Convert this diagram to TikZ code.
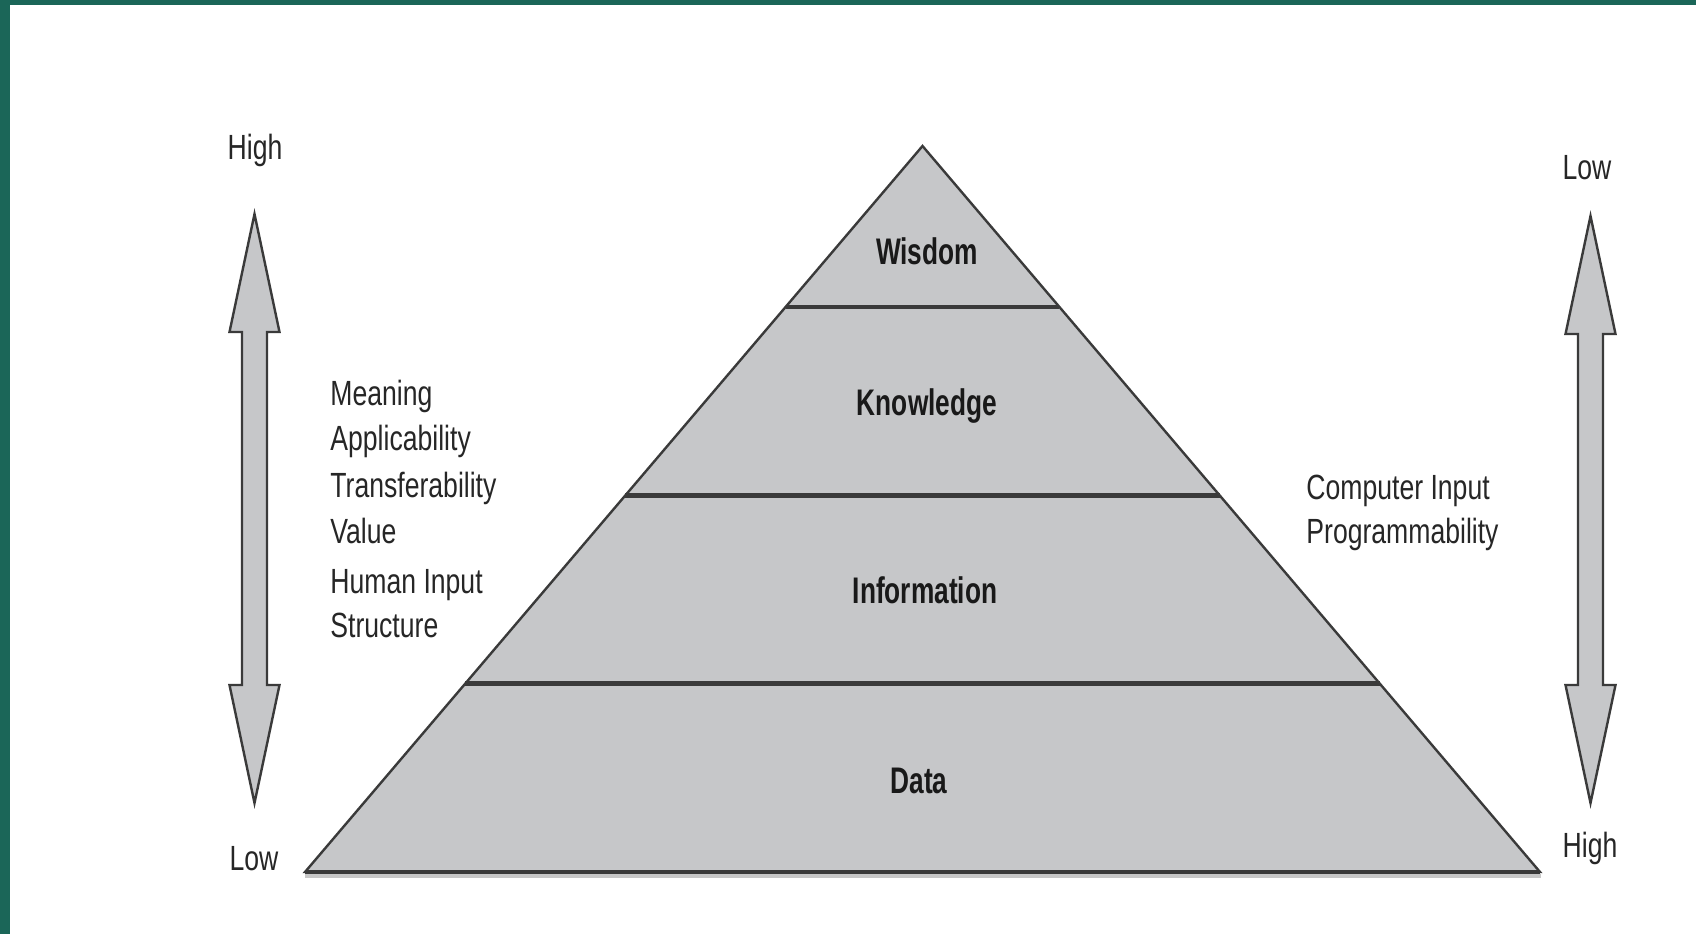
\documentclass[tikz,border=0pt]{standalone}
\usepackage{fontspec}
\setmainfont{Liberation Sans}
\newfontfamily\narrowfont[FakeStretch=0.76, BoldFeatures={FakeStretch=0.71}]{Liberation Sans}
\usetikzlibrary{calc}

\definecolor{framegreen}{HTML}{1B6658}
\definecolor{layergray}{HTML}{C6C7C9}
\definecolor{edgegray}{HTML}{3A3A3A}

\tikzset{
  side text/.style={font=\narrowfont\fontsize{17.5}{20}\selectfont, anchor=base west, inner sep=0pt, text=black!85},
  scale text/.style={font=\narrowfont\fontsize{17.5}{20}\selectfont, anchor=base, inner sep=0pt, text=black!85},
  level text/.style={font=\narrowfont\bfseries\fontsize{18.5}{21}\selectfont, anchor=base, inner sep=0pt, text=black!90},
  big arrow/.style={fill=layergray, draw=edgegray, line width=1.2pt, line join=miter},
  layer line/.style={draw=edgegray, line width=2.2pt},
}

% double headed block arrow: centre x, top tip y, bottom tip y
\newcommand{\dblarrow}[3]{%
  \draw[big arrow] (#1,#2) -- ({#1+25},{#2+118}) -- ({#1+12.5},{#2+118})
    -- ({#1+12.5},{#3-118}) -- ({#1+25},{#3-118}) -- (#1,#3)
    -- ({#1-25},{#3-118}) -- ({#1-12.5},{#3-118}) -- ({#1-12.5},{#2+118})
    -- ({#1-25},{#2+118}) -- cycle;}

\begin{document}
\begin{tikzpicture}[x=0.5pt,y=-0.5pt]
\useasboundingbox (0,0) rectangle (1696,934);
\fill[framegreen] (0,0) rectangle (1696,5); % top frame
\fill[framegreen] (0,0) rectangle (10,934); % left frame

% pyramid
\coordinate (apex) at (922.5,146);
\coordinate (baseL) at (305,872);
\coordinate (baseR) at (1540,872);
\draw[black!22, line width=2pt] (305,876) -- (1541,876); % shadow under base
\filldraw[fill=layergray, draw=edgegray, line width=1.2pt, line join=miter] (baseL) -- (apex) -- (baseR) -- cycle;
\draw[layer line] (baseL) -- (baseR); % base
\foreach \y/\name in {307/wk, 495.5/ki, 683.5/id}{
  \coordinate (l\name) at ($(apex)!{(\y-146)/726}!(baseL)$);
  \coordinate (r\name) at ($(apex)!{(\y-146)/726}!(baseR)$);
  \draw[layer line] (l\name) -- (r\name);
}

\node[level text] (wisdom) at (927,264) {Wisdom};
\node[level text] (knowledge) at (927,415) {Knowledge};
\node[level text] (information) at (925,603) {Information};
\node[level text] (data) at (919,793) {Data};

% left scale
\dblarrow{254.5}{214}{803}
\node[scale text] (lhigh) at (255,159) {High};
\node[scale text] (llow) at (254,870) {Low};
\foreach \y/\txt [count=\i] in {405/Meaning, 450/Applicability, 497/Transferability, 543/Value, 593/Human Input, 637/Structure}
  \node[side text] (left\i) at (330,\y) {\txt};

% right scale
\dblarrow{1590.5}{216}{803}
\node[scale text] (rlow) at (1587,179) {Low};
\node[scale text] (rhigh) at (1590,857) {High};
\node[side text] (cinput) at (1306,499) {Computer Input};
\node[side text] (program) at (1306,543) {Programmability};
\end{tikzpicture}
\end{document}
